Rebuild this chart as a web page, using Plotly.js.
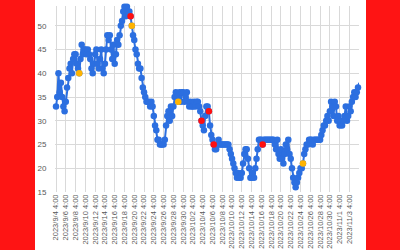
<!DOCTYPE html>
<html><head><meta charset="utf-8">
<script src="https://cdn.plot.ly/plotly-3.0.1.min.js"></script>
<style>
html,body{margin:0;padding:0;background:#fe1414;width:400px;height:250px;overflow:hidden}
#chart{position:absolute;left:35px;top:0;width:331px;height:250px;background:#fff}
</style>
</head><body><div id="chart"></div>
<script>
// series start time and sampling step (6-hourly readings)
var startTime = '2023-09-04 04:00';
var stepHours = 6;

// readings, four per day, from 2023/9/4 4:00 to 2023/11/5 4:00
var values = [
  33,35,40,36, 38,35,33,32, 34,37,39,41, 42,40,43,44, 44,42,41,40,
  43,46,44,45, 45,44,45,44, 43,41,40,42, 44,45,42,41, 43,45,41,40,
  42,45,48,47, 48,45,43,46, 42,44,47,46, 48,50,51,53, 54,52,54,53,
  53,52,50,48, 47,45,44,42, 41,41,39,37, 36,35,34,34, 34,33,34,33,
  31,29,28,26, 26,25,25,25, 25,26,29,31, 32,30,33,31, 33,35,36,35,
  34,36,34,36, 36,34,35,36, 34,33,34,33, 33,34,33,34, 34,33,32,30,
  29,28,31,33, 33,32,29,27, 26,25,24,24, 25,26,25,25, 25,25,25,25,
  25,25,24,23, 22,21,20,19, 18,19,18,18, 19,21,23,24, 24,22,20,18,
  18,19,18,20, 22,24,26,26, 26,25,26,26, 26,26,26,26, 26,26,26,25,
  24,26,23,22, 24,22,21,23, 25,24,26,23, 22,20,18,17, 16,17,18,19,
  20,20,21,23, 24,25,25,26, 26,26,25,26, 26,26,26,26, 26,27,28,29,
  29,30,31,30, 32,34,33,31, 34,33,30,31, 29,30,29,30, 31,33,30,31,
  33,32,34,35, 36,35,36,37, 38
];

// highlighted points
var redDates = ['2023-09-19 10:00','2023-10-03 22:00','2023-10-05 10:00','2023-10-06 10:00','2023-10-16 10:00'];
var redValues = [52,30,32,25,25];
var orangeDates = ['2023-09-08 22:00','2023-09-19 16:00','2023-09-29 04:00','2023-10-24 16:00'];
var orangeValues = [40,50,34,21];

var t0 = Date.UTC(2023,8,4,4,0);
var times = values.map(function(v,i){ return t0 + i*stepHours*3600000; });

var blue = '#2c6fe0';
var traces = [
  {x: times, y: values, type:'scatter', mode:'lines+markers',
   line:{color:blue, width:2}, marker:{color:blue, size:6.5},
   cliponaxis:false, hoverinfo:'skip'},
  {x: redDates, y: redValues, type:'scatter', mode:'markers',
   marker:{color:'#ff0f0f', size:6.5}, cliponaxis:false, hoverinfo:'skip'},
  {x: orangeDates, y: orangeValues, type:'scatter', mode:'markers',
   marker:{color:'#ffb300', size:6.5}, cliponaxis:false, hoverinfo:'skip'}
];

var tickFont = {family:'Liberation Sans, Arial, sans-serif', size:7.5, color:'#595959'};
var layout = {
  width:331, height:250,
  margin:{l:20, r:7, t:6, b:58, pad:0},
  paper_bgcolor:'#ffffff', plot_bgcolor:'#ffffff',
  showlegend:false,
  xaxis:{type:'date', range:['2023-09-03 23:00','2023-11-05 03:00'],
    tick0:startTime, dtick:2*86400000, tickformat:'%Y/%-m/%-d %-H:%M',
    tickangle:-90, showgrid:true, gridcolor:'#d9d9d9', gridwidth:1,
    zeroline:false, showline:false, ticks:'', tickfont:tickFont, automargin:false},
  yaxis:{range:[15,54.17], tick0:15, dtick:5, showgrid:true, gridcolor:'#d9d9d9', gridwidth:1,
    zeroline:false, showline:false, ticks:'outside', ticklen:6, tickcolor:'rgba(0,0,0,0)',
    tickfont:{family:'Liberation Sans, Arial, sans-serif', size:8, color:'#595959'}, automargin:false}
};
Plotly.newPlot('chart', traces, layout, {staticPlot:true, displayModeBar:false});
</script></body></html>
